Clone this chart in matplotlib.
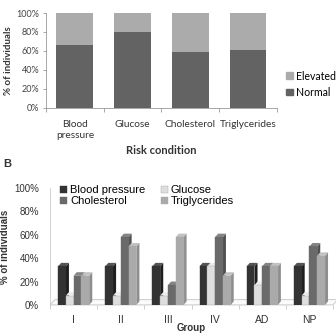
import matplotlib
matplotlib.use("Agg")
import matplotlib.pyplot as plt
from matplotlib.patches import Polygon, Patch
import numpy as np

# Panel A data
risk_conditions = ["Blood\npressure", "Glucose", "Cholesterol", "Triglycerides"]
normal_pct = [66, 80, 59, 61]
elevated_pct = [34, 20, 41, 39]

# Panel B data
groups = ["I", "II", "III", "IV", "AD", "NP"]
bp_pct = [33, 33, 33, 33, 33, 33]
glucose_pct = [8, 8, 8, 33, 17, 8]
chol_pct = [25, 58, 17, 58, 33, 50]
trig_pct = [25, 50, 58, 25, 33, 42]

fig = plt.figure(figsize=(3.36, 3.34), dpi=100)

# ---------- Panel A ----------
axA = fig.add_axes([0.137, 0.677, 0.687, 0.284])
x = np.arange(len(risk_conditions))
dark = "#636363"
light = "#ababab"
axA.bar(x, normal_pct, width=0.64, color=dark, label="Normal")
axA.bar(x, elevated_pct, bottom=normal_pct, width=0.64, color=light, label="Elevated")
axA.set_xlim(-0.5, 3.5)
axA.set_ylim(0, 100)
axA.set_yticks(range(0, 101, 20))
axA.set_yticklabels([f"{v}%" for v in range(0, 101, 20)], fontsize=6.5, color="#444444", family="Lato")
axA.set_xticks(x)
axA.set_xticklabels(risk_conditions, fontsize=7.3, color="#333333", family="Lato")
for s in ["top", "right"]:
    axA.spines[s].set_visible(False)
for s in ["left", "bottom"]:
    axA.spines[s].set_color("#999999")
    axA.spines[s].set_linewidth(0.6)
axA.tick_params(axis="both", length=2, width=0.6, color="#999999", pad=3)
axA.tick_params(axis="x", length=0, pad=9)
axA.set_xticks(np.arange(-0.5, 4, 1), minor=True)
axA.tick_params(axis="x", which="minor", length=3, width=0.6, color="#999999")
axA.set_ylabel("% of individuals", fontsize=7, fontweight="bold", color="#333333", family="Lato", labelpad=2)
axA.set_xlabel("Risk condition", fontsize=8, fontweight="bold", color="#333333", family="Lato", labelpad=4)
h = [Patch(color=light), Patch(color=dark)]
axA.legend(h, ["Elevated", "Normal"], loc="center left", bbox_to_anchor=(1.0, 0.25),
           frameon=False, handlelength=0.6, handleheight=0.6,
           handletextpad=0.3, labelspacing=0.5, prop={"family": "Lato", "size": 7.6})

fig.text(0.010, 0.508, "B", fontsize=8, color="#333333", family="Liberation Sans", fontweight="bold", va="center")

# ---------- Panel B ----------
axB = fig.add_axes([0.149, 0.087, 0.842, 0.350])
xb = np.arange(len(groups))
series = [bp_pct, glucose_pct, chol_pct, trig_pct]
names = ["Blood pressure", "Glucose", "Cholesterol", "Triglycerides"]
colors = ["#333333", "#dedede", "#6a6a6a", "#aaaaaa"]
edge_colors = ["#333333", "#a8a8a8", "#6a6a6a", "#aaaaaa"]
side_colors = ["#1e1e1e", "#c0c0c0", "#505050", "#8e8e8e"]
top_colors = ["#555555", "#ececec", "#858585", "#c2c2c2"]
bw = 0.165
dx = 0.065
dy = 3.0
axB.set_xlim(-0.5, 5.5)
axB.set_ylim(0, 100)

# floor
floor = Polygon([[-0.5, 0], [5.5, 0], [5.5 + 0.1, dy * 1.5], [-0.5 + 0.1, dy * 1.5]],
                closed=True, facecolor="#fbfbfb", edgecolor="#c0c0c0", linewidth=0.6, zorder=1, clip_on=False)
axB.add_patch(floor)

offsets = (np.arange(4) - 1.5) * bw
for k in range(4):
    vals = series[k]
    pos = xb + offsets[k]
    axB.bar(pos, vals, width=bw, color=colors[k], edgecolor=edge_colors[k],
            linewidth=0.3, zorder=3 + k * 0.1)
    for p, v in zip(pos, vals):
        r = p + bw / 2
        l = p - bw / 2
        side = Polygon([[r, 0], [r + dx, dy], [r + dx, v + dy], [r, v]], closed=True,
                       facecolor=side_colors[k], edgecolor="none", zorder=2.9 + k * 0.1)
        top = Polygon([[l, v], [l + dx, v + dy], [r + dx, v + dy], [r, v]], closed=True,
                      facecolor=top_colors[k], edgecolor="none", zorder=2.9 + k * 0.1)
        axB.add_patch(side)
        axB.add_patch(top)

axB.set_yticks(range(0, 101, 20))
axB.set_yticklabels([f"{v}%" for v in range(0, 101, 20)], fontsize=7, color="#333333", family="Liberation Sans")
axB.set_xticks(xb)
axB.set_xticklabels(groups, fontsize=7.5, color="#333333", family="Liberation Sans")
for s in ["top", "right", "bottom"]:
    axB.spines[s].set_visible(False)
axB.spines["left"].set_color("#cccccc")
axB.spines["left"].set_linewidth(0.6)
axB.tick_params(axis="y", length=0, pad=8)
axB.tick_params(axis="x", length=0, pad=7)
axB.set_xticks(np.arange(-0.5, 6, 1), minor=True)
axB.tick_params(axis="x", which="minor", length=3, width=0.5, color="#bbbbbb")
axB.set_ylabel("% of individuals", fontsize=7, fontweight="bold", color="#333333", family="Liberation Sans", labelpad=3)
axB.set_xlabel("Group", fontsize=7, fontweight="bold", color="#333333", family="Liberation Sans", labelpad=-1.5)

handles = [Patch(facecolor=colors[i], edgecolor=edge_colors[i], linewidth=0.3) for i in [0, 2, 1, 3]]
labels = [names[i] for i in [0, 2, 1, 3]]
axB.legend(handles, labels, ncol=2, loc="upper left", bbox_to_anchor=(0.0, 1.11), frameon=False,
           handlelength=0.6, handleheight=0.6, handletextpad=0.3, columnspacing=1.4, labelspacing=0.1,
           prop={"family": "Liberation Sans", "size": 8})

fig.savefig("out.png", dpi=100)
